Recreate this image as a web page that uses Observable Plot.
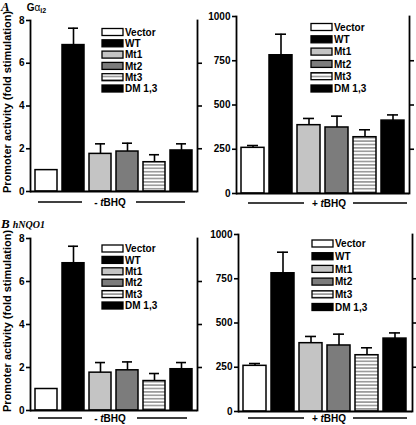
<!DOCTYPE html>
<html>
<head>
<meta charset="utf-8">
<script src="https://cdn.jsdelivr.net/npm/d3@7"></script>
<script src="https://cdn.jsdelivr.net/npm/@observablehq/plot@0.6"></script>
<style>
  html, body { margin: 0; padding: 0; background: #fff; }
  #wrap { position: relative; width: 416px; height: 425px; overflow: hidden; font-family: "Liberation Sans", Arial, sans-serif; }
  .panel { position: absolute; }
  #overlay { position: absolute; left: 0; top: 0; pointer-events: none; }
</style>
</head>
<body>
<svg width="0" height="0" style="position:absolute">
  <defs>
    <pattern id="stripes" patternUnits="userSpaceOnUse" width="6" height="3.4">
      <rect width="6" height="3.4" fill="#fff"></rect>
      <line x1="0" x2="6" y1="1.7" y2="1.7" stroke="#444" stroke-width="0.9"></line>
    </pattern>
  </defs>
</svg>
<div id="wrap"></div>
<script>
// ---- data ----
const categories = ["Vector", "WT", "Mt1", "Mt2", "Mt3", "DM 1,3"];
const colors = ["#ffffff", "#000000", "#c4c4c4", "#7c7c7c", "url(#stripes)", "#000000"];
// basal (- tBHQ), fold stimulation
const foldMean = [1.0, 6.85, 1.76, 1.87, 1.37, 1.92];
const foldUpper = [1.0, 7.64, 2.23, 2.26, 1.72, 2.23];
// + tBHQ
const tbhqMean = [258, 781, 386, 373, 318, 412];
const tbhqUpper = [271, 900, 424, 437, 360, 444];
const foldTicks = [0, 2, 4, 6, 8];
const tbhqTicks = [0, 250, 500, 750, 1000];

const wrap = document.getElementById("wrap");

function rows(means, uppers) {
  return categories.map((c, i) => ({cat: c, mean: means[i], upper: uppers[i]}));
}

function panel({left, top, width, height, mt, mb, ml, mr, means, uppers, ticks}) {
  const data = rows(means, uppers);
  const errs = data.filter(d => d.upper > d.mean);
  const max = ticks[ticks.length - 1];
  const p = Plot.plot({
    width, height,
    marginTop: mt, marginBottom: mb, marginLeft: ml, marginRight: mr,
    style: {fontFamily: "Liberation Sans, Arial, sans-serif", fontSize: "10px", fontWeight: "bold", background: "transparent", overflow: "visible"},
    x: {domain: categories, paddingInner: 0.17, paddingOuter: 0.12, axis: null},
    y: {domain: [0, max], axis: null},
    color: {domain: categories, range: colors},
    marks: [
      Plot.ruleX(errs, {x: "cat", y1: "mean", y2: "upper", stroke: "#000", strokeWidth: 1.6}),
      Plot.tickY(errs, {x: "cat", y: "upper", stroke: "#000", strokeWidth: 1.6, insetLeft: 6, insetRight: 6}),
      Plot.barY(data, {x: "cat", y: "mean", fill: "cat", stroke: "#000", strokeWidth: 1.5}),
      Plot.axisY({ticks, tickSize: 4, tickPadding: 2, tickFormat: d3.format("d"), label: null, stroke: "#000", strokeWidth: 1.6, fill: "#000", fontWeight: "bold"}),
      Plot.axisY({anchor: "right", ticks: ticks.slice(1, -1), tickSize: 4, tickFormat: () => "", label: null, stroke: "#000", strokeWidth: 1.6}),
      Plot.frame({anchor: "left", stroke: "#000", strokeWidth: 1.8}),
      Plot.frame({anchor: "right", stroke: "#000", strokeWidth: 1.8}),
      Plot.ruleY([0], {stroke: "#000", strokeWidth: 1.8})
    ]
  });
  p.classList.add("panel");
  p.style.left = left + "px";
  p.style.top = top + "px";
  wrap.appendChild(p);
}

panel({left: 0, top: 0, width: 205, height: 210, mt: 20, mb: 19, ml: 30, mr: 8, means: foldMean, uppers: foldUpper, ticks: foldTicks});
panel({left: 205, top: 0, width: 211, height: 210, mt: 16, mb: 17, ml: 31, mr: 7, means: tbhqMean, uppers: tbhqUpper, ticks: tbhqTicks});
panel({left: 0, top: 210, width: 205, height: 215, mt: 28, mb: 15, ml: 30, mr: 8, means: foldMean, uppers: foldUpper, ticks: foldTicks});
panel({left: 205, top: 210, width: 211, height: 215, mt: 24, mb: 14, ml: 33, mr: 4, means: tbhqMean, uppers: tbhqUpper, ticks: tbhqTicks});

// ---- overlay: titles, legends, treatment labels ----
const svg = d3.select(wrap).append("svg").attr("id", "overlay").attr("width", 416).attr("height", 425)
  .style("font-family", "Liberation Sans, Arial, sans-serif");

// titles
const tA = svg.append("text").attr("x", 1).attr("y", 11);
tA.append("tspan").attr("font-family", "Liberation Serif, Times New Roman, serif").attr("font-style", "italic").attr("font-weight", "bold").attr("font-size", 13).text("A");
tA.append("tspan").attr("dx", 17).attr("font-weight", "bold").attr("font-size", 10).text("G");
tA.append("tspan").attr("font-size", 10).text("α");
tA.append("tspan").attr("font-size", 7).attr("font-weight", "bold").attr("dy", 1.5).text("i2");

const tB = svg.append("text").attr("x", 1).attr("y", 228);
tB.append("tspan").attr("font-family", "Liberation Serif, Times New Roman, serif").attr("font-style", "italic").attr("font-weight", "bold").attr("font-size", 13).text("B");
tB.append("tspan").attr("dx", 3).attr("font-family", "Liberation Serif, Times New Roman, serif").attr("font-style", "italic").attr("font-weight", "bold").attr("font-size", 10).text("hNQO1");

// y labels
[[102], [321]].forEach(([cy]) => {
  svg.append("text").attr("transform", `translate(11,${cy}) rotate(-90)`).attr("text-anchor", "middle")
    .attr("font-size", 11).attr("font-weight", "bold").text("Promoter activity (fold stimulation)");
});

// legends
function legend(x, y0, dy) {
  categories.forEach((c, i) => {
    const y = y0 + i * dy;
    svg.append("rect").attr("x", x).attr("y", y - 3.5).attr("width", 21).attr("height", 7)
      .attr("fill", colors[i]).attr("stroke", "#000").attr("stroke-width", 1.3);
    svg.append("text").attr("x", x + 23).attr("y", y).attr("dy", "0.36em")
      .attr("font-size", 10).attr("font-weight", "bold").text(c);
  });
}
legend(102, 32, 11.3);
legend(311, 27, 12.3);
legend(102, 248.5, 11.4);
legend(312, 243.5, 12.7);

// treatment labels
function treat(sign, cx, y, l1, l2) {
  svg.append("line").attr("x1", l1[0]).attr("x2", l1[1]).attr("y1", y).attr("y2", y).attr("stroke", "#000").attr("stroke-width", 1.3);
  svg.append("line").attr("x1", l2[0]).attr("x2", l2[1]).attr("y1", y).attr("y2", y).attr("stroke", "#000").attr("stroke-width", 1.3);
  const t = svg.append("text").attr("x", cx).attr("y", y).attr("dy", "0.36em").attr("text-anchor", "middle")
    .attr("font-size", 10).attr("font-weight", "bold");
  t.append("tspan").text(sign + " ");
  t.append("tspan").attr("font-style", "italic").text("t");
  t.append("tspan").text("BHQ");
}
treat("-", 110, 202, [38, 82], [136, 185]);
treat("+", 329, 203, [248, 304], [353, 407]);
treat("-", 110, 418, [38, 82], [137, 187]);
treat("+", 329, 418, [248, 304], [353, 407]);
</script>
</body>
</html>
